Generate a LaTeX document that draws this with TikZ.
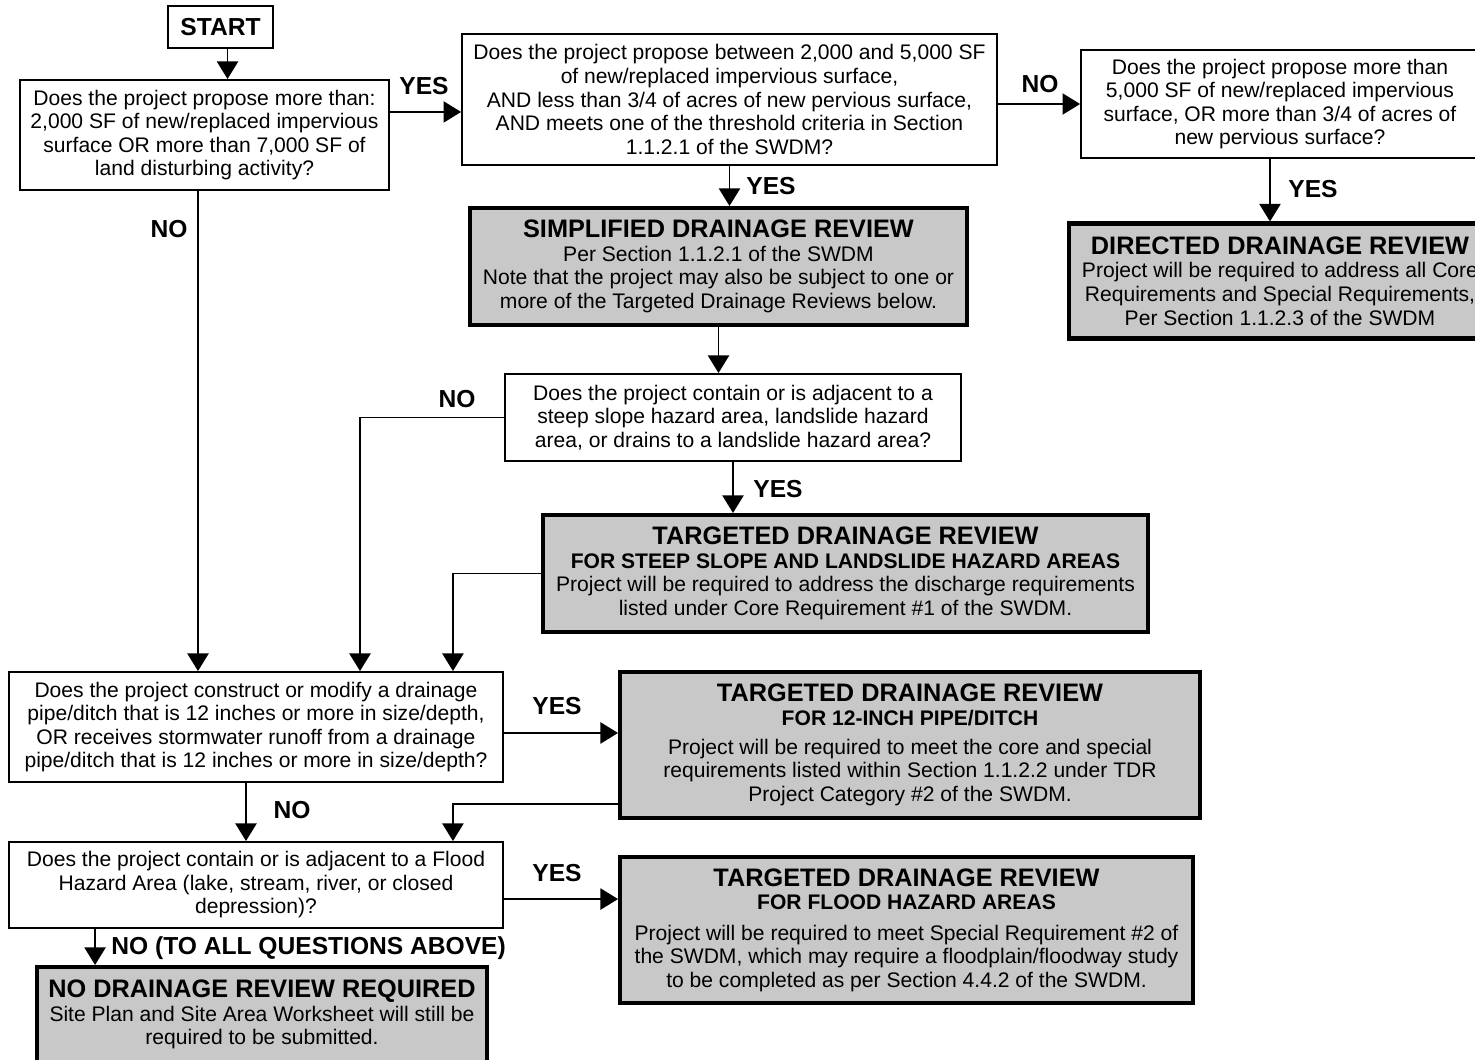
\documentclass[tikz,border=0pt]{standalone}
\usepackage{fontspec}
\setmainfont{Liberation Sans}
\usetikzlibrary{arrows.meta}
\definecolor{revfill}{HTML}{C8C8C8}
\newcommand{\revhead}[1]{{\bfseries\fontsize{14.4}{17}\selectfont #1}}
\newcommand{\revsub}[1]{{\bfseries #1}}

\begin{document}
\begin{tikzpicture}[x=0.02cm, y=-0.02cm,
        question/.style={rectangle, draw, line width=1.1pt, fill=white, align=center, inner sep=0pt,
            font=\fontsize{12}{13.4}\selectfont},
        review/.style={rectangle, draw, line width=2.3pt, fill=revfill, align=center, inner sep=0pt,
            font=\fontsize{12}{13.4}\selectfont},
        answer/.style={font=\bfseries\fontsize{14}{16}\selectfont, inner sep=0pt},
        flow/.style={-{Triangle[length=10pt,width=12pt]}, line width=1.1pt}]
    \useasboundingbox (0,0) rectangle (1475,1060);

    % Threshold questions
    \node[question, minimum width=2.1cm, minimum height=0.84cm, font=\bfseries\fontsize{14}{16}\selectfont] (start) at (220.5,27)
        {START};
    \node[question, minimum width=7.38cm, minimum height=2.2cm] (q1) at (204.5,135)
        {Does the project propose more than:\\2,000 SF of new/replaced impervious\\surface OR more than 7,000 SF of\\land disturbing activity?};
    \node[question, minimum width=10.7cm, minimum height=2.62cm] (q2) at (729.5,99.5)
        {Does the project propose between 2,000 and 5,000 SF\\of new/replaced impervious surface,\\AND less than 3/4 of acres of new pervious surface,\\AND meets one of the threshold criteria in Section\\1.1.2.1 of the SWDM?};
    \node[question, minimum width=7.96cm, minimum height=2.16cm] (q3) at (1280,104)
        {Does the project propose more than\\5,000 SF of new/replaced impervious\\surface, OR more than 3/4 of acres of\\new pervious surface?};

    \node[review, minimum width=9.94cm, minimum height=2.34cm] (simp) at (718.5,266.5)
        {\revhead{SIMPLIFIED DRAINAGE REVIEW}\\Per Section 1.1.2.1 of the SWDM\\Note that the project may also be subject to one or\\more of the Targeted Drainage Reviews below.};
    \node[review, minimum width=8.44cm, minimum height=2.3cm] (dir) at (1280,281)
        {\revhead{DIRECTED DRAINAGE REVIEW}\\Project will be required to address all Core\\Requirements and Special Requirements,\\Per Section 1.1.2.3 of the SWDM};

    % Targeted questions
    \node[question, minimum width=9.12cm, minimum height=1.74cm] (q4) at (733,417.5)
        {Does the project contain or is adjacent to a\\steep slope hazard area, landslide hazard\\area, or drains to a landslide hazard area?};
    \node[review, minimum width=12.1cm, minimum height=2.34cm] (steep) at (845.5,573.5)
        {\revhead{TARGETED DRAINAGE REVIEW}\\\revsub{FOR STEEP SLOPE AND LANDSLIDE HAZARD AREAS}\\Project will be required to address the discharge requirements\\listed under Core Requirement \#1 of the SWDM.};
    \node[question, minimum width=9.88cm, minimum height=2.2cm] (q5) at (256,727)
        {Does the project construct or modify a drainage\\pipe/ditch that is 12 inches or more in size/depth,\\OR receives stormwater runoff from a drainage\\pipe/ditch that is 12 inches or more in size/depth?};
    \node[review, minimum width=11.6cm, minimum height=2.92cm] (pipe) at (910,745)
        {\revhead{TARGETED DRAINAGE REVIEW}\\\revsub{FOR 12-INCH PIPE/DITCH}\\[3pt]Project will be required to meet the core and special\\requirements listed within Section 1.1.2.2 under TDR\\Project Category \#2 of the SWDM.};
    \node[question, minimum width=9.88cm, minimum height=1.72cm] (q6) at (256,885)
        {Does the project contain or is adjacent to a Flood\\Hazard Area (lake, stream, river, or closed\\depression)?};
    \node[review, minimum width=11.46cm, minimum height=2.92cm] (flood) at (906.5,930)
        {\revhead{TARGETED DRAINAGE REVIEW}\\\revsub{FOR FLOOD HAZARD AREAS}\\[4pt]Project will be required to meet Special Requirement \#2 of\\the SWDM, which may require a floodplain/floodway study\\to be completed as per Section 4.4.2 of the SWDM.};
    \node[review, minimum width=9cm, minimum height=2.1cm] (none) at (262,1019.5)
        {\revhead{NO DRAINAGE REVIEW REQUIRED}\\Site Plan and Site Area Worksheet will still be\\required to be submitted.\\[-5.4pt]};

    % Answers
    \node[answer] (yes1) at (424,86) {YES};
    \node[answer] (no1) at (169,229) {NO};
    \node[answer] (yes2) at (771,186) {YES};
    \node[answer] (no2) at (1040,84) {NO};
    \node[answer] (yes3) at (1313,189) {YES};
    \node[answer] (no3) at (457,399) {NO};
    \node[answer] (yes4) at (778,489) {YES};
    \node[answer] (yes5) at (557,706) {YES};
    \node[answer] (no4) at (292,810) {NO};
    \node[answer] (yes6) at (557,873) {YES};
    \node[answer, anchor=west] (noall) at (111,948) {NO (TO ALL QUESTIONS ABOVE)};

    % Connectors
    \draw[flow] ([xshift=4pt]start.south) -- ([xshift=4pt]start.south |- q1.north);
    \draw[flow] ([yshift=-7.1pt]q2.west -| q1.east) -- ([yshift=-7.1pt]q2.west);
    \draw[flow] ([xshift=-3.7pt]q1.south) -- ([xshift=-3.7pt]q1.south |- q5.north);
    \draw[flow] (q2.south) -- (q2.south |- simp.north);
    \draw[flow] (q2.east |- q3.west) -- (q3.west);
    \draw[flow] ([xshift=-5.7pt]q3.south) -- ([xshift=-5.7pt]q3.south |- dir.north);
    \draw[flow] (simp.south) -- (simp.south |- q4.north);
    \draw[flow] (q4.west) -| ([xshift=59.2pt]q5.north);
    \draw[flow] (q4.south) -- (q4.south |- steep.north);
    \draw[flow] (steep.west) -| ([xshift=112.1pt]q5.north);
    \draw[flow] ([yshift=-3.4pt]q5.east) -- ([yshift=-3.4pt]q5.east -| pipe.west);
    \draw[flow] ([xshift=-5.7pt]q5.south) -- ([xshift=-5.7pt]q5.south |- q6.north);
    \draw[flow] ([yshift=-33.6pt]pipe.west) -| ([xshift=112.1pt]q6.north);
    \draw[flow] ([yshift=-8pt]q6.east) -- ([yshift=-8pt]q6.east -| flood.west);
    \draw[flow] ([xshift=-91.6pt]q6.south) -- ([xshift=-91.6pt]q6.south |- none.north);
\end{tikzpicture}
\end{document}
